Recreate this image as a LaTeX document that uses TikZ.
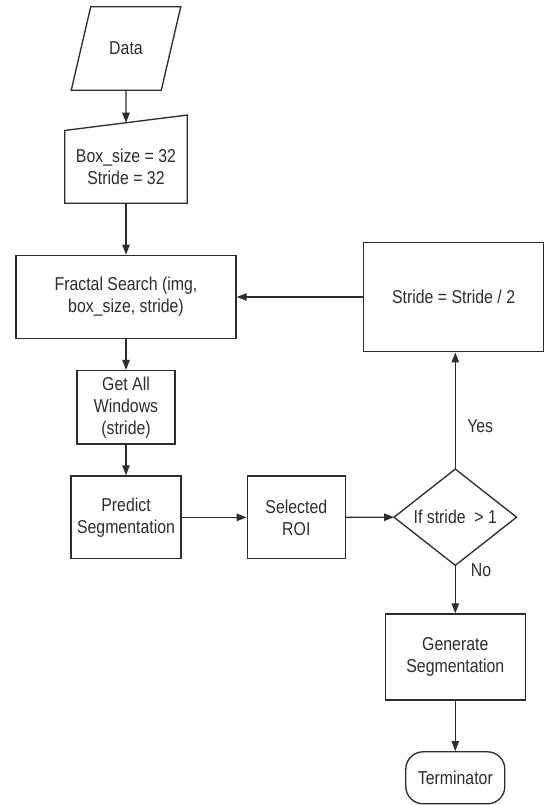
\documentclass[tikz,border=0pt]{standalone}
\usepackage{fontspec}
\setmainfont{Liberation Sans}[FakeStretch=0.85]
\usetikzlibrary{arrows.meta,calc}
\definecolor{ink}{RGB}{45,45,45}
\begin{document}
\begin{tikzpicture}[x=0.75pt,y=-0.75pt,
  font=\fontsize{14}{16.5}\selectfont,
  every node/.style={text=ink},
  box/.style={draw=ink, line width=1pt, rectangle, inner sep=0pt, align=center},
  ghost/.style={rectangle, inner sep=0pt, align=center},
  shapeline/.style={draw=ink, line width=1pt, line join=miter},
  conn/.style={draw=ink, line width=1pt, -{Triangle[length=7.5pt,width=5.5pt]}},
  lbl/.style={inner sep=0pt, anchor=west}]
\useasboundingbox (0,0) rectangle (544,805);

% Data (parallelogram)
\node[ghost, minimum width=81.75pt, minimum height=62.25pt] (data) at (126,48.5) {Data};
\draw[shapeline] ($(data.north west)+(19.5,0)$) -- (data.north east)
  -- ($(data.south east)+(-19.5,0)$) -- (data.south west) -- cycle;

% Manual input
\node[ghost, minimum width=91.5pt, minimum height=54.2pt] (params) at (126,166.85)
  {Box\_size = 32\\Stride = 32};
\coordinate (ptr) at ($(params.north east)+(0,-15.4)$);
\coordinate (pin) at ($(params.north west)!0.5!(ptr)$);
\draw[shapeline] (params.north west) -- (ptr) -- (params.south east)
  -- (params.south west) -- cycle;

% Process boxes
\node[box, minimum width=165pt, minimum height=62.5pt] (fractal) at (126,297)
  {Fractal Search (img,\\box\_size, stride)};
\node[box, minimum width=73.3pt, minimum height=55pt] (windows) at (126,407.3)
  {Get All\\Windows\\(stride)};
\node[box, minimum width=82.7pt, minimum height=62pt] (predict) at (126,517.35)
  {Predict\\Segmentation};
\node[box, minimum width=73.5pt, minimum height=62pt] (selected) at (296.3,517.35)
  {Selected\\ROI};

% Decision
\node[ghost, minimum width=91.5pt, minimum height=71.8pt] (decision) at (455.3,517.2)
  {If stride\ \ > 1};
\draw[shapeline] (decision.north) -- (decision.east) -- (decision.south)
  -- (decision.west) -- cycle;

\node[box, minimum width=134.9pt, minimum height=82pt] (stride) at (453.6,297)
  {Stride = Stride / 2};
\node[box, minimum width=105pt, minimum height=64.5pt] (generate) at (455.3,657)
  {Generate\\Segmentation};
\node[box, rounded corners=13pt, minimum width=74.25pt, minimum height=39pt] (term) at (455.3,777.8)
  {Terminator};

% Connectors
\draw[conn] (data.south) -- (pin);
\draw[conn] (params.south) -- (fractal.north);
\draw[conn] (fractal.south) -- (windows.north);
\draw[conn] (windows.south) -- (predict.north);
\draw[conn] (predict.east) -- (selected.west);
\draw[conn] (selected.east) -- (decision.west);
\draw[conn] (decision.north) -- (decision.north |- stride.south);
\draw[conn] (stride.west) -- (fractal.east);
\draw[conn] (decision.south) -- (generate.north);
\draw[conn] (generate.south) -- (term.north);

% Labels
\node[lbl] (yes) at (467,426) {Yes};
\node[lbl] (no) at (470.7,570) {No};
\end{tikzpicture}
\end{document}
